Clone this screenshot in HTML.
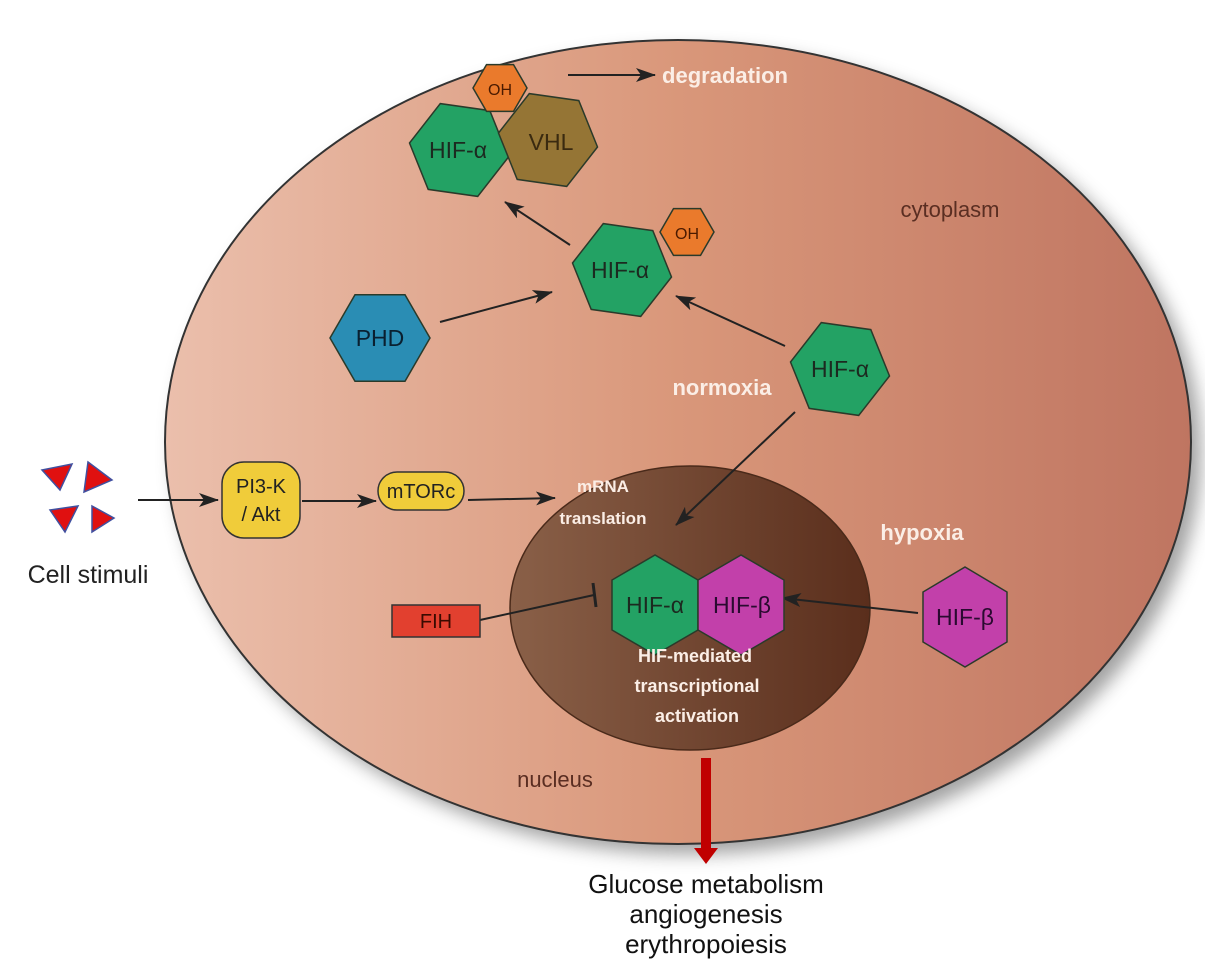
<!DOCTYPE html>
<html><head><meta charset="utf-8"><style>
html,body{margin:0;padding:0;background:#fff;}
svg{display:block;}
text{font-family:"Liberation Sans",sans-serif;}
</style></head><body>
<svg width="1205" height="978" viewBox="0 0 1205 978" xmlns="http://www.w3.org/2000/svg">
<defs>
<linearGradient id="cell" x1="0" x2="1" y1="0" y2="0">
<stop offset="0" stop-color="#ebbfac"/><stop offset="0.5" stop-color="#d9977a"/><stop offset="1" stop-color="#bf7561"/>
</linearGradient>
<linearGradient id="nuc" x1="0" x2="1" y1="0" y2="0">
<stop offset="0" stop-color="#8a6048"/><stop offset="1" stop-color="#5a2e1c"/>
</linearGradient>
<filter id="sh" x="-10%" y="-10%" width="120%" height="120%"><feGaussianBlur stdDeviation="9"/></filter>
<marker id="ar" viewBox="0 0 20 14" refX="19" refY="7" markerWidth="20" markerHeight="14" orient="auto" markerUnits="userSpaceOnUse">
<path d="M0,0 L20,7 L0,14 L5,7 z" fill="#222"/></marker>
</defs>
<ellipse cx="688" cy="452" rx="513" ry="402" fill="#555" opacity="0.55" filter="url(#sh)"/>
<ellipse cx="678" cy="442" rx="513" ry="402" fill="url(#cell)" stroke="#333" stroke-width="2"/>
<ellipse cx="690" cy="608" rx="180" ry="142" fill="url(#nuc)" stroke="#4a2a1a" stroke-width="1.5"/>

<g stroke="#222" stroke-width="2" fill="none">
<line x1="568" y1="75" x2="655" y2="75" marker-end="url(#ar)"/>
<line x1="570" y1="245" x2="505" y2="202" marker-end="url(#ar)"/>
<line x1="440" y1="322" x2="552" y2="292" marker-end="url(#ar)"/>
<line x1="785" y1="346" x2="676" y2="296" marker-end="url(#ar)"/>
<line x1="795" y1="412" x2="676" y2="525" marker-end="url(#ar)"/>
<line x1="138" y1="500" x2="218" y2="500" marker-end="url(#ar)"/>
<line x1="302" y1="501" x2="376" y2="501" marker-end="url(#ar)"/>
<line x1="468" y1="500" x2="555" y2="498" marker-end="url(#ar)"/>
<line x1="480" y1="620" x2="594" y2="595"/>
<line x1="593" y1="583" x2="596" y2="607" stroke-width="3"/>
<line x1="918" y1="613" x2="782" y2="598" marker-end="url(#ar)"/>
</g>

<g stroke="#2a3a2a" stroke-width="1.5">
<polygon transform="translate(459,150)" fill="#23a264" points="49.5,7 18.7,46.4 -30.8,39.4 -49.5,-7 -18.7,-46.4 30.8,-39.4"/>
<polygon transform="translate(548,140)" fill="#957535" points="49.5,7 18.7,46.4 -30.8,39.4 -49.5,-7 -18.7,-46.4 30.8,-39.4"/>
<polygon transform="translate(500,88)" fill="#ea7a2c" points="27,0 13.5,23.4 -13.5,23.4 -27,0 -13.5,-23.4 13.5,-23.4"/>
<polygon transform="translate(622,270)" fill="#23a264" points="49.5,7 18.7,46.4 -30.8,39.4 -49.5,-7 -18.7,-46.4 30.8,-39.4"/>
<polygon transform="translate(687,232)" fill="#ea7a2c" points="27,0 13.5,23.4 -13.5,23.4 -27,0 -13.5,-23.4 13.5,-23.4"/>
<polygon transform="translate(380,338)" fill="#2a8db4" points="50,0 25,43.3 -25,43.3 -50,0 -25,-43.3 25,-43.3"/>
<polygon transform="translate(840,369)" fill="#23a264" points="49.5,7 18.7,46.4 -30.8,39.4 -49.5,-7 -18.7,-46.4 30.8,-39.4"/>
<polygon transform="translate(655,605)" fill="#23a264" points="43,25 0,50 -43,25 -43,-25 0,-50 43,-25"/>
<polygon transform="translate(741,605)" fill="#c240aa" points="43,25 0,50 -43,25 -43,-25 0,-50 43,-25"/>
<polygon transform="translate(965,617)" fill="#c240aa" points="42,25 0,50 -42,25 -42,-25 0,-50 42,-25"/>
</g>

<g font-size="23" fill="#1c2a20" text-anchor="middle">
<text x="458" y="158">HIF-α</text>
<text x="551" y="150" fill="#3a2a10">VHL</text>
<text x="500" y="95" font-size="16" fill="#4a1a00">OH</text>
<text x="620" y="278">HIF-α</text>
<text x="687" y="239" font-size="16" fill="#4a1a00">OH</text>
<text x="380" y="346" fill="#0a2030">PHD</text>
<text x="840" y="377">HIF-α</text>
<text x="655" y="613">HIF-α</text>
<text x="742" y="613" fill="#2a0a30">HIF-β</text>
<text x="965" y="625" fill="#2a0a30">HIF-β</text>
</g>

<rect x="222" y="462" width="78" height="76" rx="22" fill="#f0cc3a" stroke="#333" stroke-width="1.5"/>
<text x="261" y="493" font-size="20" text-anchor="middle" fill="#222">PI3-K</text>
<text x="261" y="521" font-size="20" text-anchor="middle" fill="#222">/ Akt</text>
<rect x="378" y="472" width="86" height="38" rx="19" fill="#f0cc3a" stroke="#333" stroke-width="1.5"/>
<text x="421" y="498" font-size="20" text-anchor="middle" fill="#222">mTORc</text>
<rect x="392" y="605" width="88" height="32" fill="#e2402f" stroke="#333" stroke-width="1.5"/>
<text x="436" y="628" font-size="20" text-anchor="middle" fill="#3a0a00">FIH</text>

<g font-weight="bold" fill="#fbeee6" text-anchor="middle">
<text x="725" y="83" font-size="22">degradation</text>
<text x="722" y="395" font-size="22">normoxia</text>
<text x="922" y="540" font-size="22">hypoxia</text>
<text x="603" y="492" font-size="17">mRNA</text>
<text x="603" y="524" font-size="17">translation</text>
<text x="695" y="662" font-size="18">HIF-mediated</text>
<text x="697" y="692" font-size="18">transcriptional</text>
<text x="697" y="722" font-size="18">activation</text>
</g>
<text x="950" y="217" font-size="22" text-anchor="middle" fill="#5a2e22">cytoplasm</text>
<text x="555" y="787" font-size="22" text-anchor="middle" fill="#5a2e22">nucleus</text>

<rect x="701" y="758" width="10" height="92" fill="#c00000"/>
<path d="M694,848 L718,848 L706,864 z" fill="#c00000"/>

<g fill="#e01010" stroke="#4050a0" stroke-width="1.5">
<path d="M42,470 L72,464 L60,490 z"/>
<path d="M88,462 L112,480 L84,492 z"/>
<path d="M50,510 L78,506 L65,532 z"/>
<path d="M92,506 L114,518 L92,532 z"/>
</g>
<text x="88" y="583" font-size="25" text-anchor="middle" fill="#222">Cell stimuli</text>
<g font-size="26" text-anchor="middle" fill="#111">
<text x="706" y="893">Glucose metabolism</text>
<text x="706" y="923">angiogenesis</text>
<text x="706" y="953">erythropoiesis</text>
</g>
</svg>
</body></html>
